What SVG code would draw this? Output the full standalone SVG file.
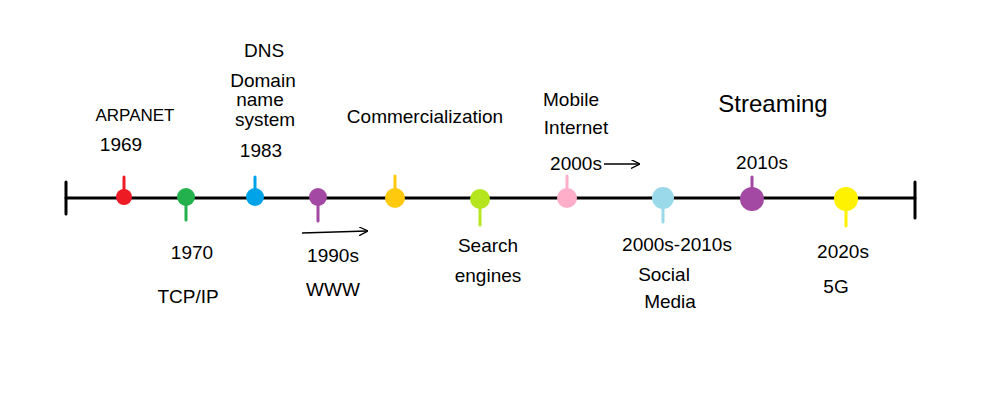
<svg xmlns="http://www.w3.org/2000/svg" width="1000" height="400" viewBox="0 0 1000 400">
<style>
.t{font-family:"Liberation Sans","DejaVu Sans",sans-serif;font-size:19px;fill:#000;text-anchor:middle}
.ax{stroke:#000;stroke-width:3;fill:none;stroke-linecap:round}
.st{stroke-width:3;stroke-linecap:round}
</style>
<defs>
<marker id="ah" viewBox="0 0 10 10" refX="9" refY="5" markerWidth="9" markerHeight="9" orient="auto" markerUnits="userSpaceOnUse">
<path d="M0,0 L10,5 L0,10" fill="none" stroke="#000" stroke-width="1.5"/>
</marker>
</defs>
<rect width="1000" height="400" fill="#fff"/>
<g id="connectors">
<line class="ax" x1="66" y1="198" x2="915" y2="198"/>
<line class="ax" x1="66" y1="182" x2="66" y2="214"/>
<line class="ax" x1="915" y1="182" x2="915" y2="218"/>
<line x1="302" y1="233" x2="367" y2="231" stroke="#000" stroke-width="1.5" marker-end="url(#ah)"/>
<line x1="604" y1="164" x2="639" y2="164" stroke="#000" stroke-width="1.5" marker-end="url(#ah)"/>
</g>
<g id="n1"><line class="st" stroke="#ed1c24" x1="124" y1="177" x2="124" y2="197"/><circle cx="124" cy="197" r="8" fill="#ed1c24"/>
<text class="t" x="135" y="121" style="font-size:17px">ARPANET</text><text class="t" x="121" y="151">1969</text></g>
<g id="n2"><line class="st" stroke="#22b14c" x1="186" y1="197" x2="186" y2="220"/><circle cx="186" cy="197" r="9" fill="#22b14c"/>
<text class="t" x="192" y="259">1970</text><text class="t" x="188" y="303">TCP/IP</text></g>
<g id="n3"><line class="st" stroke="#00a2e8" x1="255" y1="177" x2="255" y2="197"/><circle cx="255" cy="197" r="9" fill="#00a2e8"/>
<text class="t" x="264" y="57">DNS</text><text class="t" x="263" y="87">Domain</text><text class="t" x="260" y="106">name</text><text class="t" x="265" y="126">system</text><text class="t" x="261" y="157">1983</text></g>
<g id="n4"><line class="st" stroke="#a349a4" x1="318" y1="197" x2="318" y2="221"/><circle cx="318" cy="197" r="9" fill="#a349a4"/>
<text class="t" x="333" y="262">1990s</text><text class="t" x="333" y="296">WWW</text></g>
<g id="n5"><line class="st" stroke="#ffc90e" x1="395" y1="176" x2="395" y2="198"/><circle cx="395" cy="198" r="10" fill="#ffc90e"/>
<text class="t" x="425" y="123">Commercialization</text></g>
<g id="n6"><line class="st" stroke="#b5e61d" x1="480" y1="199" x2="480" y2="225"/><circle cx="480" cy="199" r="10" fill="#b5e61d"/>
<text class="t" x="488" y="252">Search</text><text class="t" x="488" y="282">engines</text></g>
<g id="n7"><line class="st" stroke="#ffaec9" x1="567" y1="176" x2="567" y2="198"/><circle cx="567" cy="198" r="10" fill="#ffaec9"/>
<text class="t" x="571" y="106">Mobile</text><text class="t" x="576" y="134">Internet</text><text class="t" x="576" y="170">2000s</text></g>
<g id="n8"><line class="st" stroke="#99d9ea" x1="663" y1="198" x2="663" y2="222"/><circle cx="663" cy="198" r="11" fill="#99d9ea"/>
<text class="t" x="677" y="251">2000s-2010s</text><text class="t" x="664" y="281">Social</text><text class="t" x="670" y="308">Media</text></g>
<g id="n9"><line class="st" stroke="#a349a4" x1="752" y1="177" x2="752" y2="199"/><circle cx="752" cy="199" r="12" fill="#a349a4"/>
<text class="t" x="773" y="112" style="font-size:24px">Streaming</text><text class="t" x="762" y="169">2010s</text></g>
<g id="n10"><line class="st" stroke="#fff200" x1="846" y1="199" x2="846" y2="226"/><circle cx="846" cy="199" r="12" fill="#fff200"/>
<text class="t" x="843" y="258">2020s</text><text class="t" x="836" y="293">5G</text></g>
</svg>
